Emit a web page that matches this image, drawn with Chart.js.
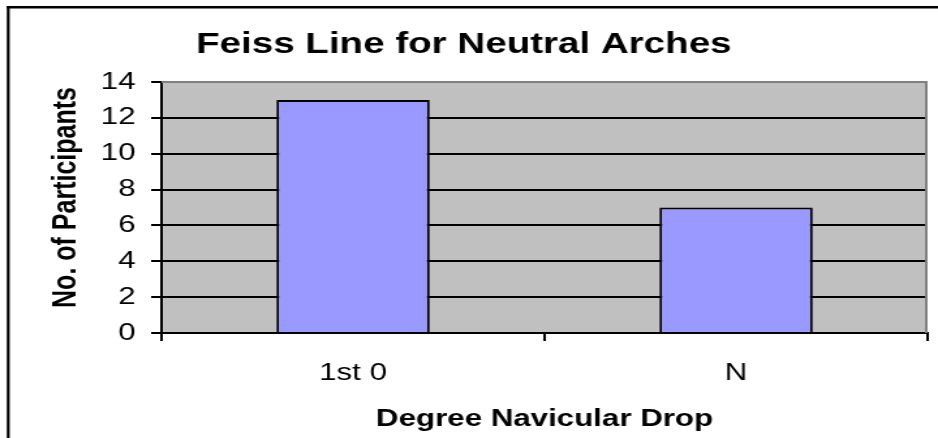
<!DOCTYPE html>
<html>
<head>
<meta charset="utf-8">
<title>Feiss Line for Neutral Arches</title>
<script src="https://cdn.jsdelivr.net/npm/chart.js@4/dist/chart.umd.min.js"></script>
<style>
  html, body { margin: 0; padding: 0; background: #ffffff; }
  /* drawn on a narrower canvas and widened on the page for the broad lettering */
  #c { display: block; width: 938px !important; height: 438px !important; }
</style>
</head>
<body>
<canvas id="c" width="720" height="438" style="width:938px;height:438px;display:block"></canvas>
<script>
const categories = ['1st 0', 'N'];
const participants = [13, 7];
const yMin = 0;
const yMax = 14;
const yStep = 2;
const yAxisTitle = 'No. of Participants';

const FONT = '"Liberation Sans", Arial, Helvetica, sans-serif';

// grey plot background, grey top/right edge, outer frame line and the value-axis title
const plotDecor = {
  id: 'plotDecor',
  beforeDraw(chart) {
    const { ctx, chartArea: a } = chart;
    ctx.save();
    ctx.fillStyle = '#c0c0c0';
    ctx.fillRect(a.left, a.top, a.right - a.left, a.bottom - a.top);
    ctx.fillStyle = '#000000';
    ctx.fillRect(5.2, 6, chart.width, 2.5);
    ctx.fillRect(5.2, 6, 2.2, chart.height);
    ctx.restore();
  },
  afterDatasetsDraw(chart) {
    const { ctx, chartArea: a } = chart;
    ctx.save();
    ctx.strokeStyle = '#808080';
    ctx.lineWidth = 2;
    ctx.beginPath();
    ctx.moveTo(a.left, a.top);
    ctx.lineTo(a.right - 1, a.top);
    ctx.lineTo(a.right - 1, a.bottom);
    ctx.stroke();
    ctx.restore();
  },
  afterDraw(chart) {
    const { ctx, chartArea: a } = chart;
    ctx.save();
    ctx.translate(51.5, (a.top + a.bottom) / 2 - 10);
    ctx.rotate(-Math.PI / 2);
    ctx.fillStyle = '#000000';
    ctx.font = 'bold 25px ' + FONT;
    ctx.textAlign = 'center';
    ctx.textBaseline = 'middle';
    ctx.fillText(yAxisTitle, 0, 0);
    ctx.restore();
  }
};

new Chart(document.getElementById('c'), {
  type: 'bar',
  data: {
    labels: categories,
    datasets: [{
      data: participants,
      backgroundColor: '#9999ff',
      borderColor: '#000000',
      borderWidth: 2,
      borderSkipped: 'start',
      barPercentage: 0.4,
      categoryPercentage: 1.0
    }]
  },
  options: {
    responsive: false,
    devicePixelRatio: 1,
    animation: false,
    layout: { padding: { left: 0, right: 8, top: 0, bottom: 0 } },
    plugins: {
      legend: { display: false },
      tooltip: { enabled: false },
      title: {
        display: true,
        text: 'Feiss Line for Neutral Arches',
        color: '#000000',
        font: { family: FONT, size: 29.6, weight: 'bold' },
        padding: { top: 27, bottom: 19.5 }
      }
    },
    scales: {
      x: {
        offset: true,
        afterFit(scale) { scale.height = 105; },
        grid: {
          offset: true,
          drawOnChartArea: false,
          drawTicks: true,
          tickLength: 8,
          color: '#000000',
          lineWidth: 2
        },
        border: { display: true, color: '#000000', width: 2 },
        ticks: {
          color: '#000000',
          padding: 18,
          font: { family: FONT, size: 24 }
        },
        title: {
          display: true,
          text: 'Degree Navicular Drop',
          color: '#000000',
          font: { family: FONT, size: 24, weight: 'bold' },
          padding: { top: 0, bottom: 4 }
        }
      },
      y: {
        min: yMin,
        max: yMax,
        afterFit(scale) { scale.width = 124; },
        grid: {
          color: (c) => (c.tick && c.tick.value === yMax ? '#808080' : '#000000'),
          tickColor: '#000000',
          lineWidth: 2,
          tickLength: 8,
          drawTicks: true
        },
        border: { display: true, color: '#000000', width: 2 },
        ticks: {
          stepSize: yStep,
          color: '#000000',
          padding: 12,
          font: { family: FONT, size: 24 }
        },
        title: { display: false }
      }
    }
  },
  plugins: [plotDecor]
});
</script>
</body>
</html>
